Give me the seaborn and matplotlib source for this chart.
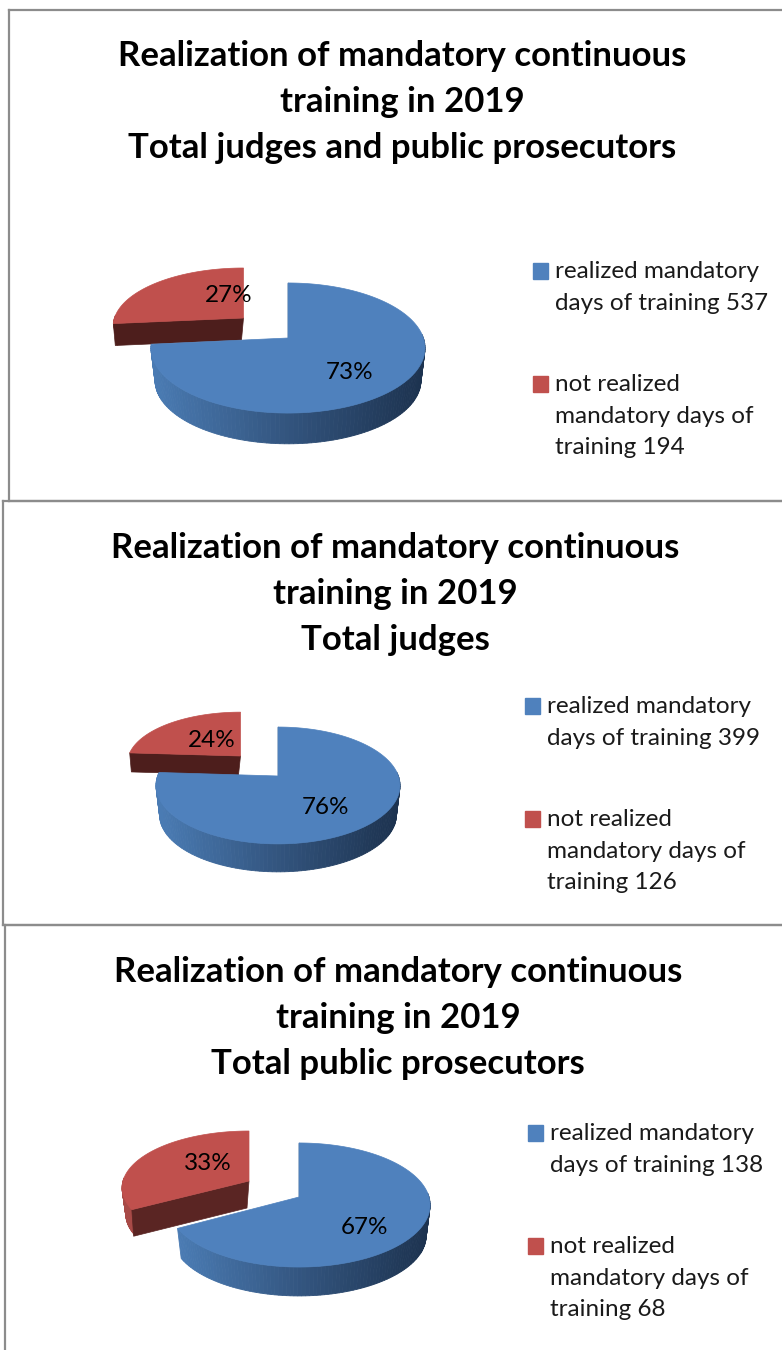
import numpy as np
import matplotlib
matplotlib.use("Agg")
import matplotlib.pyplot as plt
from matplotlib.patches import Patch, Polygon
import seaborn as sns

titles = ["Total judges and public prosecutors", "Total judges", "Total public prosecutors"]
title_head = "Realization of mandatory continuous\ntraining in 2019\n"
realized = [537, 399, 138]
not_realized = [194, 126, 68]
legend_realized = "realized mandatory\ndays of training {}"
legend_not = "not realized\nmandatory days of\ntraining {}"

BLUE, RED = "#4f81bd", "#c0504d"
W, H = 782, 1350

# layout in figure pixels
panels = [
    dict(box=(9, 10, 782, 501), title=(402, 102),
         blue=(288, 338, 135.4, 63.5, 0.154, 33), red=(243.5, 318, 129, 57, 0.14, 22),
         dark="#4d1e1c", lab=[(350, 372), (229, 296)], leg=(533, 261)),
    dict(box=(3, 501, 782, 925), title=(395, 594),
         blue=(278, 776, 120.4, 56.9, 0.162, 30), red=(240.5, 756, 112, 50, 0.14, 19),
         dark="#4d1e1c", lab=[(326, 807), (212, 740)], leg=(525, 696)),
    dict(box=(5, 925, 782, 1352), title=(398, 1018),
         blue=(299, 1197, 130, 61, 0.129, 31), red=(249, 1181, 126, 56, 0.12, 27),
         dark="#5a2523", lab=[(364, 1227), (208, 1163)], leg=(528, 1123)),
]

sns.set_theme(style="white")
plt.rcParams["font.family"] = ["Lato", "DejaVu Sans"]
fig = plt.figure(figsize=(W / 100, H / 100), dpi=100, facecolor="white")
ramp = sns.blend_palette(["#4a7bb3", "#33557f", "#1d3350"], 100)


def project(g, theta, shrink=1.0, drop=0.0):
    ax0, ay0, a, b, k, _ = g
    u, v = np.sin(theta), np.cos(theta)
    w = 1 + k * v
    return ax0 + shrink * a * u / w, ay0 + drop - shrink * b * v / w


def draw_rim(ax, g, t0, t1, color_fn):
    ts = np.linspace(t0, t1, 160)
    depth = g[5]
    x, y = project(g, ts)
    xb, yb = project(g, ts, 0.97, depth)
    for i in range(len(ts) - 1):
        if np.cos(ts[i]) > 0.05 and np.cos(ts[i + 1]) > 0.05:
            continue
        pts = [(x[i], y[i]), (x[i + 1], y[i + 1]), (xb[i + 1], yb[i + 1]), (xb[i], yb[i])]
        c = color_fn(x[i])
        ax.add_patch(Polygon(pts, closed=True, fc=c, ec=c, lw=0.6, zorder=2))


def draw_top(ax, g, t0, t1, color, z):
    ts = np.linspace(t0, t1, 200)
    x, y = project(g, ts)
    pts = np.vstack([[g[0], g[1]], np.column_stack([x, y])])
    ax.add_patch(Polygon(pts, closed=True, fc=color, ec=color, lw=0.5, zorder=z))


for p, head, yes, no in zip(panels, titles, realized, not_realized):
    l, t, r, b = p["box"]
    ax = fig.add_axes([l / W, 1 - b / H, (r - l) / W, (b - t) / H])
    ax.set_xlim(l, r)
    ax.set_ylim(b, t)
    ax.set_xticks([])
    ax.set_yticks([])
    ax.patch.set_alpha(0)
    sns.despine(ax=ax, right=True, bottom=False, top=False, left=False)
    for s in ax.spines.values():
        s.set_color("#8c8c8c")
        s.set_linewidth(1.6)

    ax.text(p["title"][0], p["title"][1], title_head + head, ha="center", va="center",
            fontsize=25, fontweight="bold", color="black", linespacing=1.54, zorder=5)

    total = yes + no
    split = 2 * np.pi * yes / total
    gb, gr = p["blue"], p["red"]

    # red slice first: it sits behind the blue one
    draw_rim(ax, gr, split, 2 * np.pi, lambda x: "#a84a47")
    lx, ly = project(gr, split)
    lxb, lyb = project(gr, split, 0.985, gr[5])
    ax.add_patch(Polygon([(gr[0], gr[1]), (lx, ly), (lxb, lyb), (gr[0] - 2, gr[1] + gr[5])],
                         closed=True, fc=p["dark"], ec=p["dark"], lw=0.5, zorder=2.5))
    draw_top(ax, gr, split, 2 * np.pi, RED, 3)

    # blue slice
    xmin, xmax = project(gb, split)[0], gb[0] + gb[2]
    draw_rim(ax, gb, 0, split,
             lambda x: ramp[int(np.clip((x - xmin) / (xmax - xmin), 0, 0.999) * len(ramp))])
    draw_top(ax, gb, 0, split, BLUE, 4)
    tx, ty = project(gb, 0.0)
    ax.plot([gb[0], tx], [gb[1], ty], color="#1d3350", lw=1.0, zorder=3.5)

    for (x, y), val in zip(p["lab"], (yes, no)):
        ax.text(x, y, f"{round(100 * val / total)}%", ha="center", va="center",
                fontsize=17.5, color="black", zorder=6)

    handles = [Patch(fc=BLUE, ec=BLUE), Patch(fc=RED, ec=RED)]
    labels = [legend_realized.format(yes), legend_not.format(no)]
    lg = ax.legend(handles, labels, loc="upper left",
                   bbox_to_anchor=(p["leg"][0], p["leg"][1]),
                   bbox_transform=ax.transData, frameon=False, fontsize=17.5,
                   handlelength=0.62, handleheight=0.62, handletextpad=0.3,
                   labelspacing=2.49, borderpad=0, borderaxespad=0)
    for txt in lg.get_texts():
        txt.set_linespacing(1.62)
        txt.set_color("#1a1a1a")
    # the colour keys sit on the first line of each entry
    for h, shift in zip(lg.legend_handles, (11.5, 23.0)):
        h.set_y(h.get_y() + shift)

fig.savefig("out.png", dpi=100)
